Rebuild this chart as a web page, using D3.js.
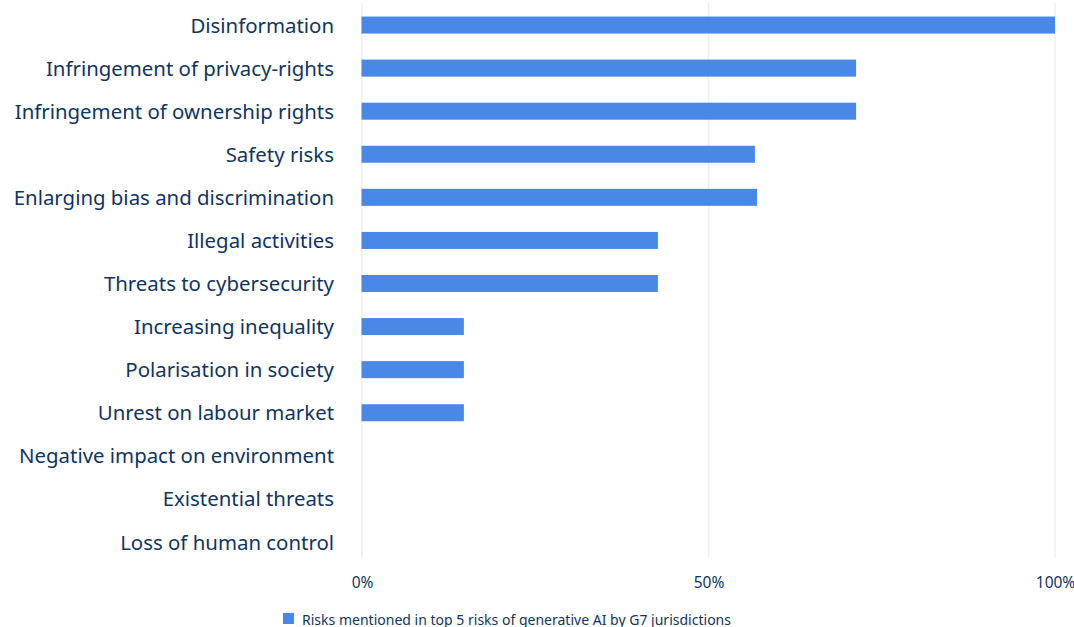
<!DOCTYPE html>
<html>
<head>
<meta charset="utf-8">
<script src="https://cdn.jsdelivr.net/npm/d3@7"></script>
<style>
  html, body { margin: 0; padding: 0; background: #ffffff; }
  svg { display: block; font-family: "Noto Sans", Lato, sans-serif; }
</style>
</head>
<body>
<svg id="chart" width="1074" height="627"></svg>
<script>
// Top-5 generative-AI risks named by G7 jurisdictions (share, %)
const categories = [
  "Disinformation",
  "Infringement of privacy-rights",
  "Infringement of ownership rights",
  "Safety risks",
  "Enlarging bias and discrimination",
  "Illegal activities",
  "Threats to cybersecurity",
  "Increasing inequality",
  "Polarisation in society",
  "Unrest on labour market",
  "Negative impact on environment",
  "Existential threats",
  "Loss of human control"
];
const shares = [100, 71.3, 71.3, 56.7, 57.0, 42.7, 42.7, 14.7, 14.7, 14.7, 0, 0, 0];
const tickValues = [0, 50, 100];
const seriesName = "Risks mentioned in top 5 risks of generative AI by G7 jurisdictions";

const textColor = "#0f3562";
const barColor = "#4a88e8";

const svg = d3.select("#chart");
const plotLeft = 362, plotRight = 1055, plotTop = 3.5, plotBottom = 563.5;

const x = d3.scaleLinear().domain([0, 100]).range([plotLeft, plotRight]);
const y = d3.scaleBand().domain(categories).range([plotTop, plotBottom])
  .paddingInner(0.605).paddingOuter(0.3025);

// vertical gridlines
svg.append("g").selectAll("line").data(tickValues).join("line")
  .attr("x1", d => x(d)).attr("x2", d => x(d))
  .attr("y1", 3).attr("y2", 558)
  .attr("stroke", "#efefef").attr("stroke-width", 1.5);

// bars (zero shares draw nothing)
const rows = categories.map((c, i) => ({ c, v: shares[i] })).filter(d => d.v > 0);
svg.append("g").selectAll("rect").data(rows).join("rect")
  .attr("x", x(0) - 0.5)
  .attr("y", d => y(d.c))
  .attr("width", d => x(d.v) - x(0) + 0.5)
  .attr("height", y.bandwidth())
  .attr("fill", barColor);

// category labels
svg.append("g").selectAll("text").data(categories).join("text")
  .attr("x", 334)
  .attr("y", d => y(d) + y.bandwidth() / 2)
  .attr("dy", "0.37em")
  .attr("text-anchor", "end")
  .attr("font-size", 20.4)
  .attr("fill", textColor)
  .text(d => d);

// x-axis tick labels
const xAxis = d3.axisBottom(x).tickValues(tickValues).tickFormat(d => d + "%").tickSize(0).tickPadding(0);
const axisG = svg.append("g").attr("transform", "translate(0,576.5)").call(xAxis);
axisG.select(".domain").remove();
axisG.selectAll("text")
  .attr("font-family", "'Noto Sans', Lato, sans-serif")
  .attr("font-size", 15.5)
  .attr("fill", textColor)
  .attr("dy", "0.75em");

// legend
const legend = svg.append("g").attr("transform", "translate(283,613)");
legend.append("rect").attr("width", 11).attr("height", 11).attr("fill", barColor);
legend.append("text")
  .attr("x", 19).attr("y", 11.5)
  .attr("font-size", 14)
  .attr("fill", textColor)
  .attr("textLength", 429)
  .attr("lengthAdjust", "spacingAndGlyphs")
  .text(seriesName);
</script>
</body>
</html>
